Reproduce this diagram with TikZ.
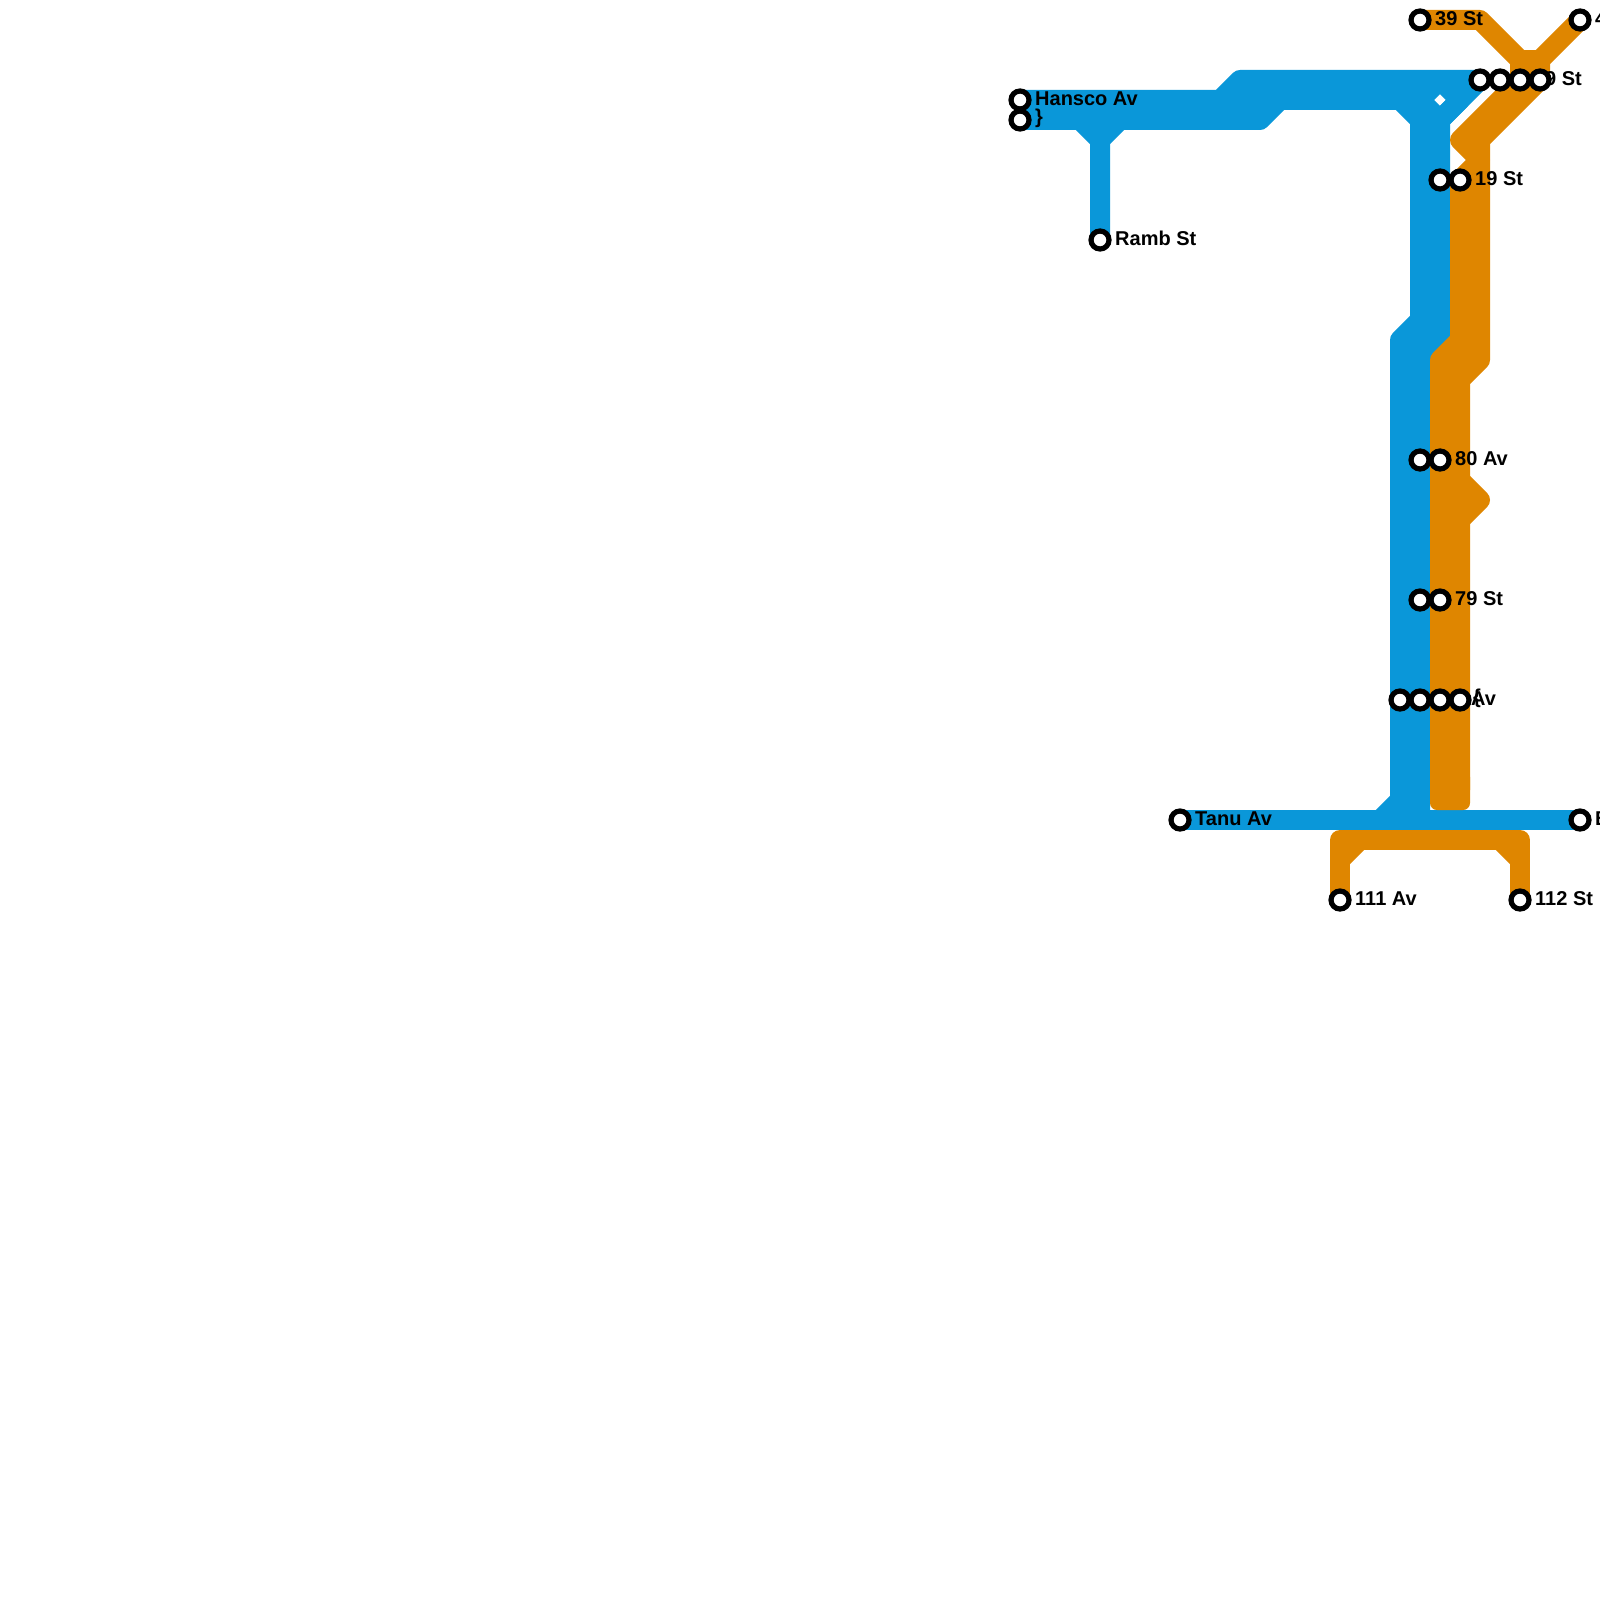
\documentclass[tikz,border=0pt]{standalone}
\usepackage{fontspec}
\setmainfont{Liberation Sans}
\definecolor{lineblue}{HTML}{0A97D9}
\definecolor{lineorange}{HTML}{DF8600}
\tikzset{
  route/.style={line width=20pt,line join=round,line cap=butt},
  routeblue/.style={route,draw=lineblue},
  routeorange/.style={route,draw=lineorange},
  bandblue/.style={fill=lineblue,draw=none},
  bandorange/.style={fill=lineorange,draw=none},
  stop/.style={circle,draw=black,fill=white,line width=5.2pt,minimum size=18pt,inner sep=0pt,outer sep=0pt},
  stoplabel/.style={anchor=west,inner sep=0pt,font=\fontsize{20}{20}\selectfont\bfseries,text=black}
}
\begin{document}
\begin{tikzpicture}[x=1pt,y=-1pt]
\useasboundingbox (0,0) rectangle (1600,1600);
% station positions
\foreach \n/\x/\y in {a/1020/100,b/1020/120,c/1100/240,d/1420/20,e/1580/20,f/1480/80,g/1500/80,h/1520/80,i/1540/80,j/1440/180,k/1460/180,l/1420/460,m/1440/460,n/1420/600,o/1440/600,p/1400/700,q/1420/700,r/1440/700,s/1460/700,t/1180/820,u/1580/820,v/1340/900,w/1520/900}
  \coordinate (p\n) at (\x,\y);
% orange: the tail under the south blue line and the two northern branches
\draw[routeorange] (pv) -- (1340,840) -- (1520,840) -- (pw);
\draw[routeorange] (1340,860) -- (1360,840);
\draw[routeorange] (1500,840) -- (1520,860);
\draw[routeorange] (pd) -- (1480,20) -- (1520,60) -- (ph);
\draw[routeorange] (pe) -- (1540,60) -- (pi);
\draw[routeorange] (1520,60) -- (1540,60);
\fill[bandorange] (1520,60) rectangle (1540,85);
% blue
\fill[bandblue] (1020,100) -- (1220,100) -- (1240,80) -- (1400,80) -- (1400,100) -- (1280,100) -- (1260,120) -- (1020,120) -- cycle;
\fill[bandblue] (1420,120) -- (1440,120) -- (1440,340) -- (1420,360) -- (1420,820) -- (1400,820) -- (1400,340) -- (1420,320) -- cycle;
\draw[routeblue] (pa) -- (1220,100) -- (1240,80) -- (pf) -- (1440,120) -- (1440,340) -- (1420,360) -- (1420,820);
\draw[routeblue] (pb) -- (1260,120) -- (1280,100) -- (1420,100);
\draw[routeblue] (1400,100) -- (1420,120) -- (1420,320) -- (1400,340) -- (1400,800) -- (1380,820);
\draw[routeblue] (1440,80) -- (1420,100) -- (1440,120) -- (1460,100) -- cycle;
\draw[routeblue] (pt) -- (pu);
\draw[routeblue] (pc) -- (1100,140) -- (1080,120);
\draw[routeblue] (1100,140) -- (1120,120);
% orange trunk over blue
\fill[bandorange] (1520,80) -- (1540,80) -- (1480,140) -- (1480,360) -- (1460,380) -- (1460,795) -- (1440,795) -- (1440,360) -- (1460,340) -- (1460,180) -- (1480,160) -- (1460,140) -- cycle;
\draw[routeorange] (pi) -- (1480,140) -- (1480,360) -- (1460,380) -- (1460,790);
\draw[routeorange] (1460,480) -- (1480,500) -- (1460,520);
\draw[routeorange] (ph) -- (1460,140) -- (1480,160) -- (pk) -- (1460,340) -- (1440,360) -- (1440,790);
\fill[bandorange,rounded corners=7pt] (1430,770) rectangle (1470,810);
% labels
\node[stoplabel] at (1035,98.4) {Hansco Av};
\node[stoplabel] at (1035,118.4) {\}};
\node[stoplabel] at (1115,238) {Ramb St};
\node[stoplabel] at (1435,18.4) {39 St};
\node[stoplabel] at (1595,18.4) {4};
\node[stoplabel] at (1545,78.4) {9 St};
\node[stoplabel] at (1475,178.4) {19 St};
\node[stoplabel] at (1455,458.4) {80 Av};
\node[stoplabel] at (1455,598.4) {79 St};
\node[stoplabel] at (1471,698.4) {Av};
\node[stoplabel] at (1473,698.4) {\{};
\node[stoplabel] at (1195,818.4) {Tanu Av};
\node[stoplabel] at (1595,818.4) {B};
\node[stoplabel] at (1355,898.4) {111 Av};
\node[stoplabel] at (1535,898.4) {112 St};
% stations
\foreach \n in {a,b,c,d,e,f,g,h,i,j,k,l,m,n,o,p,q,r,s,t,u,v,w}
  \node[stop] (s\n) at (p\n) {};
\end{tikzpicture}
\end{document}
